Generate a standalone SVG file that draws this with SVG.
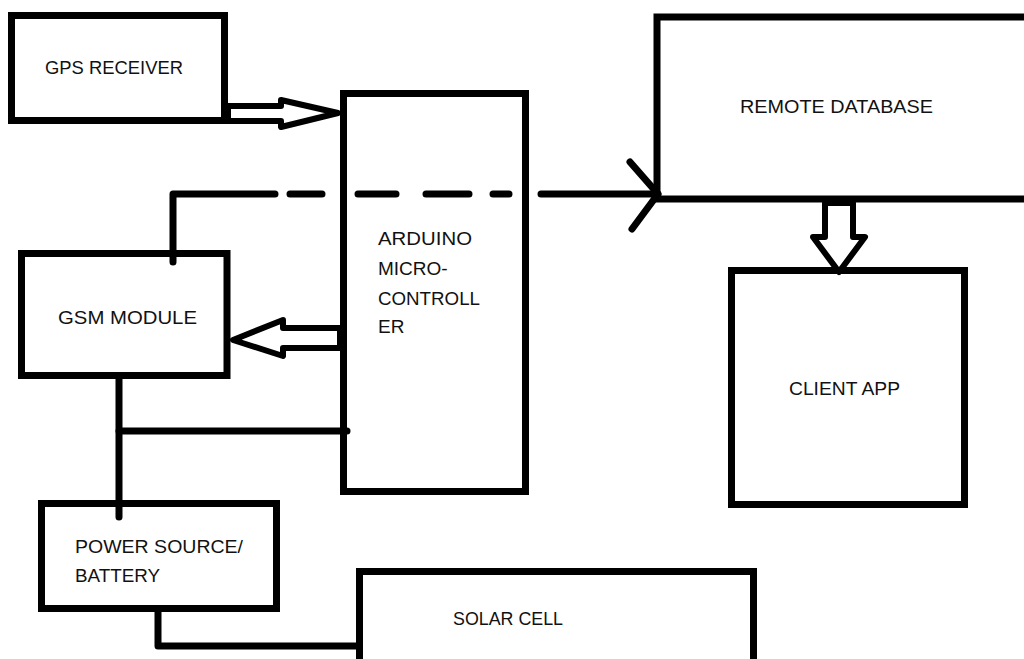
<svg xmlns="http://www.w3.org/2000/svg" width="1024" height="659" viewBox="0 0 1024 659">
<style>
.box{fill:#fff;stroke:#000;stroke-width:7}
.ln{fill:none;stroke:#000;stroke-width:7;stroke-linecap:round;stroke-linejoin:round}
.ar{fill:#fff;stroke:#000;stroke-width:6;stroke-linejoin:round}
.t{font-family:"Liberation Sans",Arial,sans-serif;font-size:19px;fill:#111}
</style>
<rect width="1024" height="659" fill="#fff"/>
<g id="gps"><rect class="box" x="11.5" y="15.5" width="213" height="105"/><text class="t" x="45" y="74" textLength="138" lengthAdjust="spacingAndGlyphs">GPS RECEIVER</text></g>
<g id="arduino"><rect class="box" x="343.5" y="93.5" width="182" height="398"/>
<text class="t" x="378" y="245" textLength="94" lengthAdjust="spacingAndGlyphs">ARDUINO</text>
<text class="t" x="378" y="275">MICRO-</text>
<text class="t" x="378" y="305" textLength="102" lengthAdjust="spacingAndGlyphs">CONTROLL</text>
<text class="t" x="378" y="333">ER</text></g>
<g id="remote"><rect class="box" x="657" y="17" width="420" height="182"/><text class="t" x="740" y="113" textLength="193" lengthAdjust="spacingAndGlyphs">REMOTE DATABASE</text></g>
<g id="gsm"><rect class="box" x="21.5" y="253.5" width="205.5" height="122"/><text class="t" x="58" y="324" textLength="139" lengthAdjust="spacingAndGlyphs">GSM MODULE</text></g>
<g id="client"><rect class="box" x="731.5" y="270.5" width="233" height="234"/><text class="t" x="789" y="395" textLength="111" lengthAdjust="spacingAndGlyphs">CLIENT APP</text></g>
<g id="power"><rect class="box" x="41.5" y="503.5" width="235" height="105"/><text class="t" x="75" y="553" textLength="168" lengthAdjust="spacingAndGlyphs">POWER SOURCE/</text><text class="t" x="75" y="582" textLength="85" lengthAdjust="spacingAndGlyphs">BATTERY</text></g>
<g id="solar"><rect class="box" x="359.5" y="571.5" width="394" height="120"/><text class="t" x="453" y="625" textLength="110" lengthAdjust="spacingAndGlyphs">SOLAR CELL</text></g>
<g id="connectors">
<path class="ln" d="M119,378 V517"/>
<path class="ln" d="M119,431 H347"/>
<path class="ln" d="M158,612 V646 H357"/>
<path class="ln" d="M173,262 V194 H275"/>
<path class="ln" d="M290,194 H322 M358,194 H396 M426,194 H469 M493,194 H509 M541,194 H658"/>
<path class="ln" d="M630,162 L658,194 L632,229"/>
<polygon class="ar" points="228,106 281,106 281,100 338,113 281,127 281,121 228,121"/>
<polygon class="ar" points="340,328 283,328 283,320 233,340 283,356 283,348 340,348"/>
<polygon class="ar" points="825,203 825,237 813,237 839,272 865,237 853,237 853,203"/>
</g>
</svg>
